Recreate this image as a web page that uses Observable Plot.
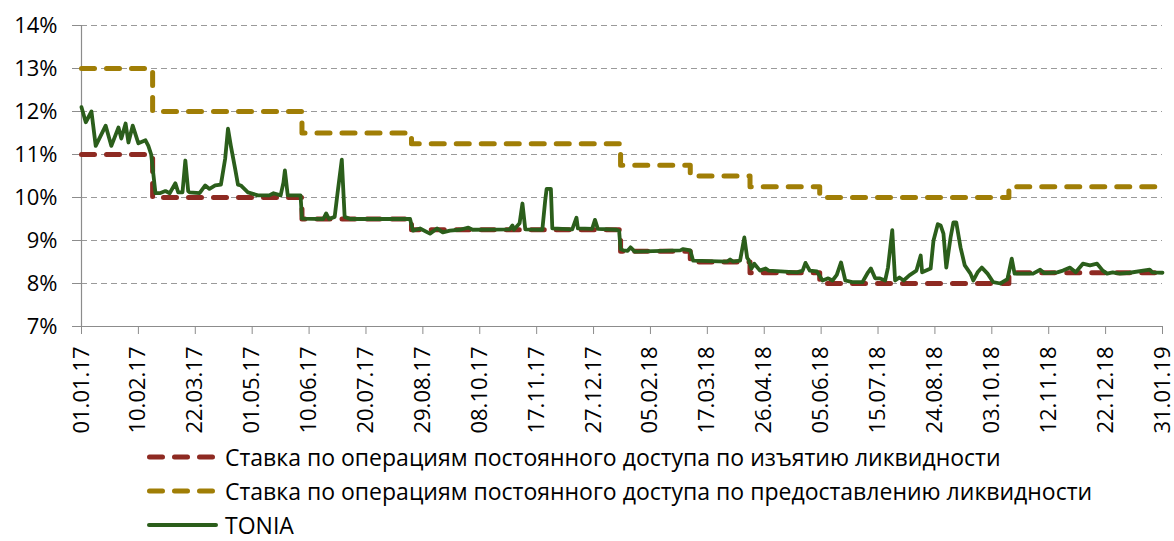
<!DOCTYPE html>
<html>
<head>
<meta charset="utf-8">
<script src="https://cdn.jsdelivr.net/npm/d3@7"></script>
<script src="https://cdn.jsdelivr.net/npm/@observablehq/plot@0.6"></script>
<style>
  html, body { margin: 0; padding: 0; background: #fff; }
  body { width: 1174px; height: 541px; overflow: hidden; font-family: "Open Sans", sans-serif; }
  #legend { padding-top: 5.5px; margin-left: 147px; }
  .row { display: flex; align-items: center; height: 23px; margin-bottom: 11px; font-size: 23px; line-height: 23px; color: #000; white-space: nowrap; }
  .row:last-child { margin-bottom: 0; }
  .row svg { flex: none; }
</style>
</head>
<body>
<div id="chart"></div>
<div id="legend"></div>
<script>
// ---- Data ----
const xTickLabels = ["01.01.17","10.02.17","22.03.17","01.05.17","10.06.17","20.07.17","29.08.17","08.10.17","17.11.17","27.12.17","05.02.18","17.03.18","26.04.18","05.06.18","15.07.18","24.08.18","03.10.18","12.11.18","22.12.18","31.01.19"];
const yTicks = [7, 8, 9, 10, 11, 12, 13, 14];

const seriesNames = [
  "Ставка по операциям постоянного доступа по изъятию ликвидности",
  "Ставка по операциям постоянного доступа по предоставлению ликвидности",
  "TONIA"
];

const rateDates = ["2017-01-01","2017-02-20","2017-06-05","2017-08-21","2018-01-15","2018-03-05","2018-04-16","2018-06-04","2018-10-15","2019-01-31"];
const depositRate = [11, 10, 9.5, 9.25, 8.75, 8.5, 8.25, 8, 8.25, 8.25];
const lendingRate = [13, 12, 11.5, 11.25, 10.75, 10.5, 10.25, 10, 10.25, 10.25];

const toniaDates = [
"2017-01-01","2017-01-04","2017-01-08","2017-01-11","2017-01-18","2017-01-22","2017-01-27","2017-01-29","2017-02-01","2017-02-03",
"2017-02-06","2017-02-10","2017-02-15","2017-02-17","2017-02-19","2017-02-22","2017-02-25","2017-03-01","2017-03-04","2017-03-08",
"2017-03-10","2017-03-13","2017-03-15","2017-03-17","2017-03-18","2017-03-25","2017-03-29","2017-04-01","2017-04-05","2017-04-09",
"2017-04-12","2017-04-14","2017-04-16","2017-04-19","2017-04-21","2017-04-23","2017-04-28","2017-05-05","2017-05-13","2017-05-16",
"2017-05-21","2017-05-23","2017-05-24","2017-05-26","2017-06-04","2017-06-05","2017-06-20","2017-06-22","2017-06-24","2017-06-28",
"2017-06-30","2017-07-03","2017-07-05","2017-07-09","2017-08-20","2017-08-22","2017-08-27","2017-09-03","2017-09-08","2017-09-12",
"2017-09-17","2017-09-24","2017-09-30","2017-10-03","2017-10-29","2017-10-31","2017-11-01","2017-11-05","2017-11-07","2017-11-09",
"2017-11-21","2017-11-23","2017-11-24","2017-11-27","2017-11-28","2017-12-12","2017-12-15","2017-12-16","2017-12-26","2017-12-28",
"2017-12-30","2018-01-12","2018-01-14","2018-01-15","2018-01-17","2018-01-20","2018-01-22","2018-01-25","2018-02-26","2018-02-28",
"2018-03-05","2018-03-07","2018-03-31","2018-04-02","2018-04-04","2018-04-09","2018-04-12","2018-04-14","2018-04-15","2018-04-17",
"2018-04-19","2018-04-23","2018-04-27","2018-04-29","2018-05-19","2018-05-23","2018-05-25","2018-05-28","2018-06-02","2018-06-06",
"2018-06-10","2018-06-13","2018-06-16","2018-06-19","2018-06-22","2018-06-27","2018-07-04","2018-07-08","2018-07-10","2018-07-13",
"2018-07-16","2018-07-20","2018-07-22","2018-07-25","2018-07-27","2018-07-30","2018-08-02","2018-08-06","2018-08-11","2018-08-14",
"2018-08-15","2018-08-21","2018-08-23","2018-08-26","2018-08-28","2018-08-30","2018-09-01","2018-09-04","2018-09-06","2018-09-08",
"2018-09-11","2018-09-14","2018-09-18","2018-09-20","2018-09-23","2018-09-26","2018-09-30","2018-10-04","2018-10-09","2018-10-14",
"2018-10-17","2018-10-19","2018-11-01","2018-11-06","2018-11-09","2018-11-18","2018-11-22","2018-11-27","2018-12-01","2018-12-06",
"2018-12-11","2018-12-16","2018-12-20","2018-12-23","2018-12-27","2019-01-01","2019-01-08","2019-01-22","2019-01-24","2019-01-31"
];
const toniaValues = [
12.1,11.75,12.0,11.2,11.67,11.2,11.63,11.37,11.72,11.28,
11.67,11.26,11.33,11.2,11.0,10.1,10.1,10.15,10.1,10.33,
10.12,10.12,10.86,10.15,10.12,10.1,10.28,10.2,10.28,10.3,
10.9,11.6,11.2,10.67,10.3,10.28,10.12,10.05,10.05,10.1,
10.05,10.35,10.63,10.05,10.05,9.51,9.5,9.63,9.5,9.55,
10.1,10.88,9.55,9.5,9.5,9.23,9.28,9.16,9.28,9.19,
9.23,9.25,9.3,9.25,9.26,9.35,9.25,9.4,9.86,9.26,
9.25,9.93,10.2,10.2,9.28,9.26,9.53,9.28,9.27,9.48,
9.27,9.25,9.22,8.8,8.77,8.76,8.84,8.74,8.77,8.8,
8.77,8.53,8.51,8.56,8.51,8.53,9.07,8.6,8.55,8.35,
8.46,8.3,8.35,8.3,8.26,8.3,8.48,8.3,8.28,8.07,
8.12,8.07,8.2,8.49,8.07,8.03,8.03,8.26,8.35,8.12,
8.12,8.07,8.37,9.24,8.07,8.14,8.07,8.19,8.3,8.65,
8.26,8.35,9.0,9.38,9.35,9.16,8.37,9.07,9.42,9.42,
8.84,8.42,8.23,8.07,8.26,8.37,8.23,8.03,8.0,8.1,
8.58,8.23,8.23,8.32,8.24,8.26,8.3,8.37,8.26,8.46,
8.42,8.46,8.3,8.23,8.26,8.23,8.25,8.32,8.26,8.25
];

// ---- Styles ----
const colors = ["#8E2A22", "#A07E06", "#2B5E1B"];
const parseTick = d3.utcParse("%d.%m.%y");
const fmtTick = d3.utcFormat("%d.%m.%y");
const xTicks = xTickLabels.map(parseTick);

const depositData = rateDates.map((d, i) => ({date: new Date(d), value: depositRate[i]}));
const lendingData = rateDates.map((d, i) => ({date: new Date(d), value: lendingRate[i]}));
const toniaData = toniaDates.map((d, i) => ({date: new Date(d), value: toniaValues[i]}));

const chart = Plot.plot({
  width: 1174,
  height: 440,
  marginLeft: 81,
  marginRight: 12,
  marginTop: 25,
  marginBottom: 114,
  x: {type: "utc", domain: [xTicks[0], xTicks[xTicks.length - 1]]},
  y: {domain: [7, 14]},
  style: {fontFamily: "Open Sans, sans-serif", fontSize: "22px", color: "#000", background: "#fff", overflow: "visible"},
  marks: [
    Plot.gridY(yTicks.slice(1), {stroke: "#9a9a9a", strokeOpacity: 1, strokeDasharray: "6,4", strokeWidth: 1.2}),
    Plot.ruleY([7], {stroke: "#8c8c8c", strokeWidth: 1.2}),
    Plot.ruleX([xTicks[0]], {stroke: "#8c8c8c", strokeWidth: 1.2}),
    Plot.axisY({ticks: yTicks, tickFormat: d => d + "%", tickSize: 9, tickPadding: 15, stroke: "#8c8c8c", fill: "#000", label: null}),
    Plot.axisX({ticks: xTicks, tickFormat: fmtTick, tickRotate: -90, tickSize: 8, tickPadding: 12, stroke: "#8c8c8c", fill: "#000", label: null}),
    Plot.line(depositData, {x: "date", y: "value", curve: "step-after", stroke: colors[0], strokeWidth: 5, strokeDasharray: "13,12", strokeLinecap: "round", strokeLinejoin: "round"}),
    Plot.line(lendingData, {x: "date", y: "value", curve: "step-after", stroke: colors[1], strokeWidth: 5, strokeDasharray: "13,12", strokeLinecap: "round", strokeLinejoin: "round"}),
    Plot.line(toniaData, {x: "date", y: "value", stroke: colors[2], strokeWidth: 3.8, strokeLinejoin: "round", strokeLinecap: "round"})
  ]
});
document.getElementById("chart").appendChild(chart);

// ---- Legend ----
const legend = document.getElementById("legend");
seriesNames.forEach((name, i) => {
  const row = document.createElement("div");
  row.className = "row";
  const dashed = i < 2;
  row.innerHTML =
    `<svg width="78" height="12"><line x1="${dashed ? 2.5 : 2}" x2="${dashed ? 65.5 : 69}" y1="6" y2="6" stroke="${colors[i]}" stroke-width="${dashed ? 5 : 4}" stroke-linecap="round" ${dashed ? 'stroke-dasharray="13,12"' : ''}/></svg>` +
    `<span>${name}</span>`;
  legend.appendChild(row);
});
</script>
</body>
</html>
